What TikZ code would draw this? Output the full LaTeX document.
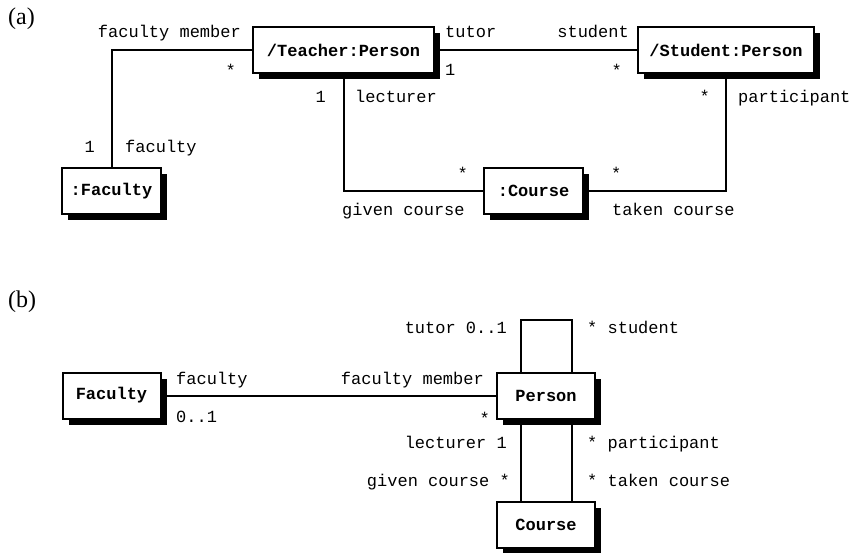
\documentclass[tikz,border=0pt]{standalone}
\usepackage{fontspec}
\setmainfont{Liberation Serif}
\setmonofont{Liberation Mono}
\usetikzlibrary{shadows,positioning}

\begin{document}
\begin{tikzpicture}[x=1pt,y=-1pt,
  cls/.style={draw,line width=2pt,fill=white,minimum height=46pt,inner sep=0pt,
    font=\fontsize{17}{20}\selectfont\ttfamily\bfseries,
    drop shadow={shadow xshift=6pt,shadow yshift=-6pt,fill=black,opacity=1}},
  lbl/.style={inner sep=0pt,font=\fontsize{17}{20}\selectfont\ttfamily},
  tag/.style={anchor=base west,inner sep=0pt,font=\fontsize{24}{26}\selectfont},
  lnk/.style={line width=2pt}]
\useasboundingbox (0,0) rectangle (851,553);

% (a) object diagram
\node[tag] (tagA) at (8,25) {(a)};

\node[cls,minimum width=181pt] (teacher) at (343.5,50) {/Teacher:Person};
\node[cls,minimum width=176pt] (student) at (726,50) {/Student:Person};
\node[cls,minimum width=99pt] (facultyA) at (111.5,191) {:Faculty};
\node[cls,minimum width=99pt] (courseA) at (533.5,191) {:Course};

\draw[lnk] (teacher.west) -| (facultyA.north);
\draw[lnk] (teacher.east) -- (student.west);
\draw[lnk] (teacher.south) |- (courseA.west);
\draw[lnk] (courseA.east) -| (student.south);

\node[lbl,anchor=base east] (fmA) at (241,38) {faculty member};
\node[lbl,anchor=base east] (fmAm) at (236,77) {*};
\node[lbl,anchor=base east] (fcAm) at (95,153) {1};
\node[lbl,anchor=base west] (fcA) at (125,153) {faculty};
\node[lbl,anchor=base west] (tuA) at (445,38) {tutor};
\node[lbl,anchor=base west] (tuAm) at (445,76) {1};
\node[lbl,anchor=base east] (stA) at (629,38) {student};
\node[lbl,anchor=base east] (stAm) at (622,77) {*};
\node[lbl,anchor=base east] (leAm) at (326,103) {1};
\node[lbl,anchor=base west] (leA) at (355,103) {lecturer};
\node[lbl,anchor=base east] (paAm) at (710,103) {*};
\node[lbl,anchor=base west] (paA) at (738,103) {participant};
\node[lbl,anchor=base east] (gcAm) at (468,180) {*};
\node[lbl,anchor=base west] (gcA) at (342,216) {given course};
\node[lbl,anchor=base west] (tcAm) at (611,180) {*};
\node[lbl,anchor=base west] (tcA) at (612,216) {taken course};

% (b) class diagram
\node[tag] (tagB) at (8,307) {(b)};

\node[cls,minimum width=98pt] (facultyB) at (111.5,395.5) {Faculty};
\node[cls,minimum width=98pt] (person) at (546,395.5) {Person};
\node[cls,minimum width=98pt,below=81pt of person] (courseB) {Course};

\draw[lnk] (facultyB.east) -- (person.west);
\draw[lnk] ([xshift=-25pt]person.north) -- ++(0,-52) -| ([xshift=26pt]person.north);
\foreach \dx in {-25,26}{
\draw[lnk] ([xshift=\dx pt]person.south) -- ([xshift=\dx pt]courseB.north);
}

\node[lbl,anchor=base east] (tuB) at (507,333) {tutor 0..1};
\node[lbl,anchor=base west] (stB) at (587,333) {* student};
\node[lbl,anchor=base west] (fcB) at (176,384) {faculty};
\node[lbl,anchor=base west] (fcBm) at (176,422) {0..1};
\node[lbl,anchor=base east] (fmB) at (484,384) {faculty member};
\node[lbl,anchor=base east] (fmBm) at (490,424) {*};
\node[lbl,anchor=base east] (leB) at (507,448) {lecturer 1};
\node[lbl,anchor=base west] (paB) at (587,448) {* participant};
\node[lbl,anchor=base east] (gcB) at (510,486) {given course *};
\node[lbl,anchor=base west] (tcB) at (587,486) {* taken course};

\end{tikzpicture}
\end{document}
